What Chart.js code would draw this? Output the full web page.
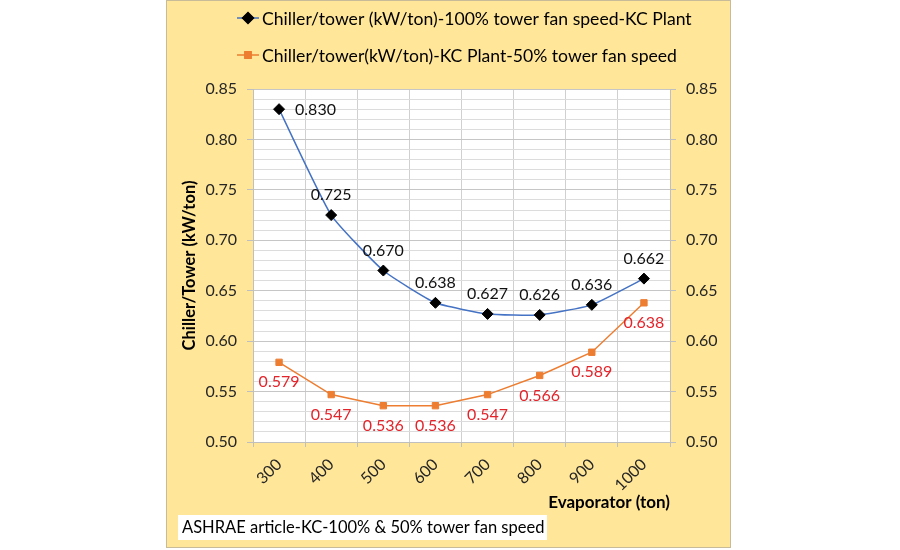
<!DOCTYPE html>
<html>
<head>
<meta charset="utf-8">
<script src="https://cdn.jsdelivr.net/npm/chart.js@4/dist/chart.umd.min.js"></script>
<style>
  html, body { margin: 0; padding: 0; background: #ffffff; }
  #wrap { position: absolute; left: 166px; top: 0px; width: 565px; height: 548px;
          box-sizing: border-box; border: 1px solid #c8bc98; background: #FFE699; }
  canvas { display: block; }
</style>
</head>
<body>
<div id="wrap"><canvas id="c" width="563" height="546"></canvas></div>
<script>
// ---- data ----
const categories = ['300', '400', '500', '600', '700', '800', '900', '1000'];
const fan100 = [0.830, 0.725, 0.670, 0.638, 0.627, 0.626, 0.636, 0.662];
const fan50  = [0.579, 0.547, 0.536, 0.536, 0.547, 0.566, 0.589, 0.638];
const fan100Label = 'Chiller/tower (kW/ton)-100% tower fan speed-KC Plant';
const fan50Label  = 'Chiller/tower(kW/ton)-KC Plant-50% tower fan speed';
const yAxisTitle = 'Chiller/Tower (kW/ton)';
const xAxisTitle = 'Evaporator (ton)';
const noteText = 'ASHRAE article-KC-100% & 50% tower fan speed';
const yMin = 0.50, yMax = 0.85, yGridStep = 0.01, yLabelStep = 0.05;

// label placement for the value labels (style, not data)
const fan100LabelPos = ['right', 'above', 'above', 'above', 'above', 'above', 'above', 'above'];
const fan50LabelPos  = ['below', 'below', 'below', 'below', 'below', 'below', 'below', 'below'];

const FONT = "Lato, 'Open Sans', 'Noto Sans', sans-serif";
const TXT = '#262626';

function isMajor(v) { return Math.round(v * 100) % Math.round(yLabelStep * 100) === 0; }

// value labels plugin
const valueLabels = {
  id: 'valueLabels',
  afterDatasetsDraw(chart) {
    const ctx = chart.ctx;
    ctx.save();
    ctx.font = '16px ' + FONT;
    chart.data.datasets.forEach((ds, di) => {
      const meta = chart.getDatasetMeta(di);
      const pos = ds.labelPos;
      meta.data.forEach((pt, i) => {
        const txt = ds.data[i].toFixed(3);
        ctx.fillStyle = ds.labelColor;
        ctx.textBaseline = 'middle';
        if (pos[i] === 'right') {
          ctx.textAlign = 'left';
          ctx.fillText(txt, pt.x + 16, pt.y + 1);
        } else if (pos[i] === 'above') {
          ctx.textAlign = 'center';
          ctx.fillText(txt, pt.x, pt.y - 20);
        } else {
          ctx.textAlign = 'center';
          ctx.fillText(txt, pt.x, pt.y + 20);
        }
      });
    });
    ctx.restore();
  }
};

// plot background + legend + note box
const decorations = {
  id: 'decorations',
  beforeDraw(chart) {
    const {ctx, chartArea: a} = chart;
    ctx.save();
    ctx.fillStyle = '#ffffff';
    ctx.fillRect(a.left, a.top, a.right - a.left, a.bottom - a.top);
    ctx.restore();
  },
  afterDraw(chart) {
    const ctx = chart.ctx;
    ctx.save();
    // legend (canvas coords; canvas origin at page (167,1))
    const rows = [17, 54];
    chart.data.datasets.forEach((ds, i) => {
      const y = rows[i];
      ctx.strokeStyle = ds.borderColor;
      ctx.lineWidth = 1.5;
      ctx.beginPath();
      ctx.moveTo(70, y); ctx.lineTo(92, y); ctx.stroke();
      ctx.fillStyle = ds.pointBackgroundColor;
      ctx.strokeStyle = ds.pointBorderColor;
      Chart.helpers.drawPoint(ctx, {pointStyle: ds.pointStyle, radius: ds.pointRadius, borderWidth: 1, rotation: 0}, 81, y);
      ctx.fill();
      ctx.fillStyle = '#000';
      ctx.font = '17.6px ' + FONT;
      ctx.textAlign = 'left';
      ctx.textBaseline = 'middle';
      ctx.fillText(ds.label, 95, y + 1);
    });
    // note box
    ctx.fillStyle = '#ffffff';
    ctx.fillRect(11, 514, 369, 25);
    ctx.fillStyle = '#000';
    ctx.font = '16.5px ' + FONT;
    ctx.textAlign = 'left';
    ctx.textBaseline = 'middle';
    ctx.fillText(noteText, 15, 527);
    ctx.restore();
  }
};

const tickFont = { family: FONT, size: 16 };

new Chart(document.getElementById('c'), {
  type: 'line',
  data: {
    labels: categories,
    datasets: [
      {
        label: fan100Label, data: fan100,
        borderColor: '#4472C4', borderWidth: 1.5,
        pointStyle: 'rectRot', pointRadius: 5.5,
        pointBackgroundColor: '#000000', pointBorderColor: '#000000', pointBorderWidth: 1,
        tension: 0.15, fill: false,
        labelColor: '#111111', labelPos: fan100LabelPos
      },
      {
        label: fan50Label, data: fan50,
        borderColor: '#ED7D31', borderWidth: 1.5,
        pointStyle: 'rect', pointRadius: 4.5,
        pointBackgroundColor: '#ED7D31', pointBorderColor: '#ED7D31', pointBorderWidth: 1,
        tension: 0, fill: false,
        labelColor: '#E3242B', labelPos: fan50LabelPos
      }
    ]
  },
  options: {
    responsive: false,
    animation: false,
    layout: { padding: { top: 88, left: 0, right: 0, bottom: 0 } },
    plugins: { legend: { display: false }, tooltip: { enabled: false }, title: { display: false } },
    scales: {
      x: {
        type: 'category',
        offset: true,
        grid: { offset: true, color: '#D0D0D0', tickColor: '#BFBFBF', tickLength: 5, lineWidth: 1 },
        border: { color: '#BFBFBF' },
        ticks: { font: tickFont, color: TXT, minRotation: 45, maxRotation: 45, padding: 8, autoSkip: false },
        title: { display: true, text: xAxisTitle, align: 'end', color: '#000',
                 font: { family: FONT, size: 17, weight: 'bold' }, padding: { top: 0, bottom: 34 } },
        afterFit(s) { s.height = 105; }
      },
      y: {
        position: 'left',
        min: yMin, max: yMax,
        grid: {
          color: (c) => isMajor(c.tick.value) ? '#C6C6C6' : '#DCDCDC',
          tickColor: (c) => isMajor(c.tick.value) ? '#BFBFBF' : 'rgba(0,0,0,0)',
          tickLength: 6
        },
        border: { color: '#BFBFBF' },
        ticks: {
          stepSize: yGridStep, autoSkip: false, font: tickFont, color: TXT, padding: 10,
          callback: (v) => isMajor(v) ? v.toFixed(2) : ''
        },
        title: { display: true, text: yAxisTitle, color: '#000',
                 font: { family: FONT, size: 16.5, weight: 'bold' }, padding: { top: 13, bottom: 0 } },
        afterFit(s) { s.width = 86; }
      },
      y2: {
        position: 'right',
        min: yMin, max: yMax,
        grid: {
          drawOnChartArea: false,
          tickColor: (c) => isMajor(c.tick.value) ? '#BFBFBF' : 'rgba(0,0,0,0)',
          tickLength: 6
        },
        border: { color: '#BFBFBF' },
        ticks: {
          stepSize: yGridStep, autoSkip: false, font: tickFont, color: TXT, padding: 10,
          callback: (v) => isMajor(v) ? v.toFixed(2) : ''
        },
        afterFit(s) { s.width = 60; }
      }
    }
  },
  plugins: [decorations, valueLabels]
});
</script>
</body>
</html>
